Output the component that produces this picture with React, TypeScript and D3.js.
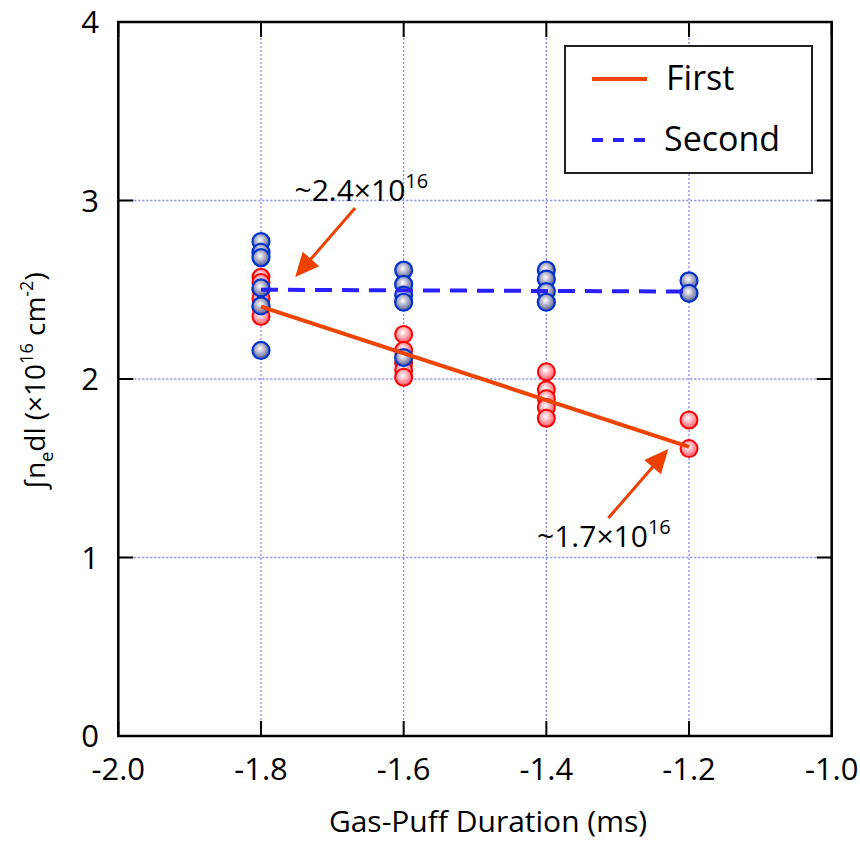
import React from "react";
import * as d3 from "d3";

const W = 860, H = 843;
const xTicks = [-2.0, -1.8, -1.6, -1.4, -1.2, -1.0];
const yTicks = [0, 1, 2, 3, 4];
const gridX = [-1.8, -1.6, -1.4, -1.2];
const gridY = [1, 2, 3];

const firstX = [-1.8, -1.8, -1.8, -1.8, -1.8, -1.8, -1.6, -1.6, -1.6, -1.6, -1.6, -1.4, -1.4, -1.4, -1.4, -1.4, -1.2, -1.2];
const firstY = [2.57, 2.54, 2.50, 2.45, 2.40, 2.35, 2.25, 2.16, 2.09, 2.05, 2.01, 2.04, 1.94, 1.89, 1.84, 1.78, 1.77, 1.61];
const secondX = [-1.8, -1.8, -1.8, -1.8, -1.8, -1.8, -1.6, -1.6, -1.6, -1.6, -1.6, -1.4, -1.4, -1.4, -1.4, -1.2, -1.2];
const secondY = [2.77, 2.71, 2.68, 2.51, 2.41, 2.16, 2.61, 2.53, 2.47, 2.43, 2.12, 2.61, 2.56, 2.49, 2.43, 2.55, 2.48];
const fitFirstX = [-1.8, -1.2];
const fitFirstY = [2.405, 1.62];
const fitSecondX = [-1.8, -1.2];
const fitSecondY = [2.5, 2.49];

const annText = ["~2.4×10", "~1.7×10"];
const annSup = ["16", "16"];
const annTextX = [-1.753, -1.413];
const annTextY = [3.0, 1.059];
const annFromX = [-1.668, -1.313];
const annFromY = [2.958, 1.221];
const annToX = [-1.752, -1.229];
const annToY = [2.571, 1.608];

const ML = 118.3, MR = 831.7, MT = 22, MB = 736;
const FONT = "'Open Sans', sans-serif";

export default function App() {
  const x = d3.scaleLinear().domain([-2.0, -1.0]).range([ML, MR]);
  const y = d3.scaleLinear().domain([0, 4]).range([MB, MT]);
  const line = d3.line<[number, number]>().x(d => x(d[0])).y(d => y(d[1]));
  const arrowColor = "#ee4000";
  const tickLen = 15;

  const arrow = (i: number) => {
    const x1 = x(annFromX[i]), y1 = y(annFromY[i]);
    const x2 = x(annToX[i]), y2 = y(annToY[i]);
    const ang = Math.atan2(y2 - y1, x2 - x1);
    const hl = 24, hw = 11;
    const bx = x2 - hl * Math.cos(ang), by = y2 - hl * Math.sin(ang);
    const px = -Math.sin(ang), py = Math.cos(ang);
    const pts = [[x2, y2], [bx + px * hw, by + py * hw], [bx - px * hw, by - py * hw]];
    return (
      <g key={"arr" + i}>
        <line x1={x1} y1={y1} x2={bx + (x2 - bx) * 0.2} y2={by + (y2 - by) * 0.2} stroke={arrowColor} strokeWidth={3} />
        <polygon points={pts.map(p => p.join(",")).join(" ")} fill={arrowColor} />
      </g>
    );
  };

  return (
    <svg width={W} height={H} style={{ position: "absolute", left: 0, top: 0, background: "#fff" }} fontFamily={FONT}>
      <defs>
        <radialGradient id="gRed" cx="45%" cy="40%" r="60%">
          <stop offset="0%" stopColor="#ffffff" />
          <stop offset="100%" stopColor="#ff5566" />
        </radialGradient>
        <radialGradient id="gBlue" cx="45%" cy="40%" r="60%">
          <stop offset="0%" stopColor="#ffffff" />
          <stop offset="100%" stopColor="#55558c" />
        </radialGradient>
      </defs>
      {/* grid */}
      {gridX.map(v => (
        <line key={"gx" + v} x1={x(v)} x2={x(v)} y1={MT} y2={MB} stroke="#8888ff" strokeWidth={1.3} strokeDasharray="2,2" />
      ))}
      {gridY.map(v => (
        <line key={"gy" + v} x1={ML} x2={MR} y1={y(v)} y2={y(v)} stroke="#8888ff" strokeWidth={1.3} strokeDasharray="2,2" />
      ))}
      {/* frame */}
      <rect x={ML} y={MT} width={MR - ML} height={MB - MT} fill="none" stroke="#000" strokeWidth={2.5} />
      {xTicks.map(v => (
        <g key={"xt" + v}>
          <line x1={x(v)} x2={x(v)} y1={MB} y2={MB - tickLen} stroke="#000" strokeWidth={2} />
          <line x1={x(v)} x2={x(v)} y1={MT} y2={MT + tickLen} stroke="#000" strokeWidth={2} />
          <text x={x(v)} y={780} textAnchor="middle" fontSize={31}>{v.toFixed(1)}</text>
        </g>
      ))}
      {yTicks.map(v => (
        <g key={"yt" + v}>
          <line x1={ML} x2={ML + tickLen} y1={y(v)} y2={y(v)} stroke="#000" strokeWidth={2} />
          <line x1={MR} x2={MR - tickLen} y1={y(v)} y2={y(v)} stroke="#000" strokeWidth={2} />
          <text x={99} y={y(v) + 11} textAnchor="end" fontSize={31}>{v}</text>
        </g>
      ))}
      {/* points */}
      {firstX.map((v, i) => (
        <circle key={"f" + i} cx={x(v)} cy={y(firstY[i])} r={8.5} fill="url(#gRed)" stroke="#ff0000" strokeWidth={2} />
      ))}
      {secondX.map((v, i) => (
        <circle key={"s" + i} cx={x(v)} cy={y(secondY[i])} r={8.5} fill="url(#gBlue)" stroke="#0033cc" strokeWidth={2.2} />
      ))}
      {/* fits */}
      <path d={line(fitFirstX.map((v, i) => [v, fitFirstY[i]]) as any) || ""} fill="none" stroke="#ee4400" strokeWidth={4} />
      <path d={line(fitSecondX.map((v, i) => [v, fitSecondY[i]]) as any) || ""} fill="none" stroke="#2a1fff" strokeWidth={4} strokeDasharray="17,10" />
      {/* annotations */}
      {annText.map((t, i) => (
        <text key={"at" + i} x={x(annTextX[i])} y={y(annTextY[i])} fontSize={30}>
          {t}<tspan fontSize={20} dy={-13}>{annSup[i]}</tspan>
        </text>
      ))}
      {annText.map((_, i) => arrow(i))}
      {/* legend */}
      <rect x={565} y={46} width={247} height={127} fill="#fff" stroke="#222" strokeWidth={2} />
      <line x1={592} x2={647} y1={79} y2={79} stroke="#ee4400" strokeWidth={4} />
      <text x={666} y={90} fontSize={34}>First</text>
      <line x1={592} x2={647} y1={140} y2={140} stroke="#2a1fff" strokeWidth={4} strokeDasharray="11,10" />
      <text x={664} y={151} fontSize={34}>Second</text>
      {/* axis titles */}
      <text x={488} y={832} textAnchor="middle" fontSize={30}>Gas-Puff Duration (ms)</text>
      <text transform={`translate(45,381) rotate(-90)`} textAnchor="middle" fontSize={28}>
        ∫n<tspan fontSize={18} dy={8}>e</tspan><tspan dy={-8}>dl (×10</tspan><tspan fontSize={18} dy={-12}>16</tspan><tspan dy={12}> cm</tspan><tspan fontSize={18} dy={-12}>-2</tspan><tspan dy={12}>)</tspan>
      </text>
    </svg>
  );
}
